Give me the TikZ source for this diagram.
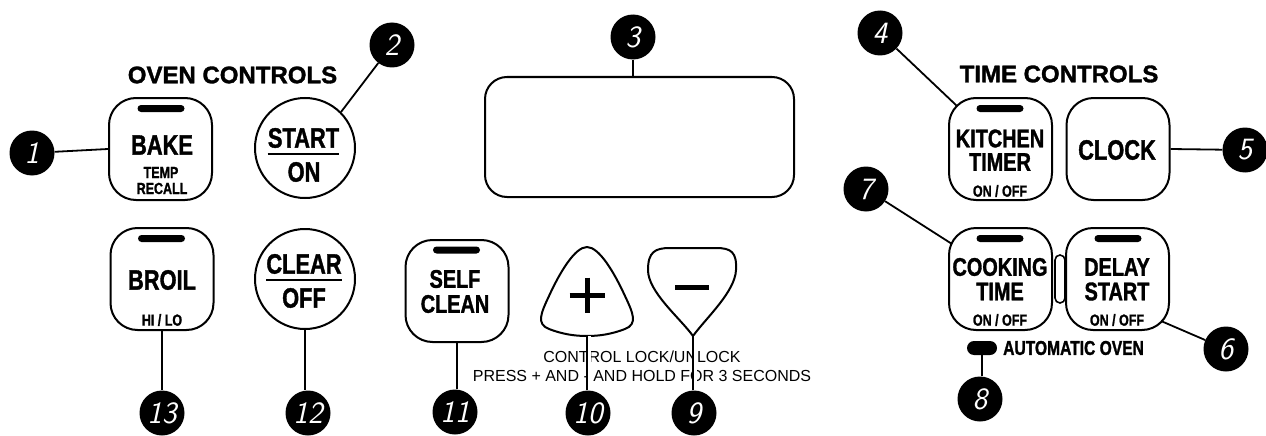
\documentclass[tikz,border=0pt]{standalone}
\usepackage{fontspec}
\setmainfont{Liberation Sans}
\newfontfamily\condfont[FakeStretch=0.78, BoldFeatures={FakeBold=1.3}]{Liberation Sans}
\newfontfamily\headfont[BoldFeatures={FakeBold=1.5}]{Liberation Sans}
\tikzset{
  btn/.style={draw, line width=2pt, rounded corners=27pt, minimum width=103pt, minimum height=102pt, inner sep=0pt},
  rbtn/.style={draw, circle, line width=2pt, minimum size=100pt, inner sep=0pt},
  badge/.style={circle, fill=black, minimum size=45pt, inner sep=0pt, text=white, font=\sffamily\itshape\fontsize{31}{31}\selectfont},
  lead/.style={line width=1.8pt},
  halo/.style={line width=1.8pt, preaction={draw, white, line width=5pt, transform canvas={xshift=1.8pt}}},
  ledbar/.style={fill=black, rounded corners=3.5pt, minimum width=47pt, minimum height=7pt, inner sep=0pt},
  big/.style={inner sep=0pt, font=\condfont\bfseries\fontsize{28}{28}\selectfont},
  mid/.style={inner sep=0pt, font=\condfont\bfseries\fontsize{25.5}{26}\selectfont},
  small/.style={inner sep=0pt, font=\condfont\bfseries\fontsize{16}{16}\selectfont},
  head/.style={inner sep=0pt, font=\headfont\bfseries\fontsize{24}{24}\selectfont},
  note/.style={inner sep=0pt, font=\fontsize{16}{16}\selectfont},
}
\begin{document}
\begin{tikzpicture}[x=1pt, y=-1pt]
\useasboundingbox[fill=white] (0,0) rectangle (1266,436);

% headings
\node[head] (ovenh) at (232.5,75) {OVEN CONTROLS};
\node[head] (timeh) at (1059,74) {TIME CONTROLS};

% oven buttons
\node[btn] (bake) at (160.5,149) {};
\node[ledbar] (bakebar) at (161,108.5) {};
\node[big] (baket) at (162,145) {BAKE};
\node[small] (bakes1) at (161,172.5) {TEMP};
\node[small] (bakes2) at (162,188.5) {RECALL};

\node[rbtn] (start) at (305,148) {};
\node[big] (startt) at (303.5,138) {START};
\node[big] (startb) at (304,172) {ON};
\draw[line width=1.6pt] (startt.south west) ++(0,6) coordinate (su1) -- (su1 -| startt.south east);

\node[btn] (broil) at (162,279) {};
\node[ledbar] (broilbar) at (161.5,238.5) {};
\node[big] (broilt) at (162,280) {BROIL};
\node[small] (broils) at (162,320) {HI / LO};

\node[rbtn] (clear) at (305,279) {};
\node[big] (cleart) at (304,264) {CLEAR};
\node[big] (clearb) at (304,298) {OFF};
\draw[line width=1.6pt] (cleart.south west) ++(0,6) coordinate (cu1) -- (cu1 -| cleart.south east);

\node[btn] (self) at (457,291) {};
\node[ledbar] (selfbar) at (456.5,250) {};
\node[mid] (selft1) at (455,279) {SELF};
\node[mid] (selft2) at (455,304) {CLEAN};

% display
\node[draw, line width=2pt, rounded corners=22pt, minimum width=309pt, minimum height=120pt, inner sep=0pt] (disp) at (639.5,137) {};

% plus / minus pads
\draw[line width=2pt] (587,247) .. controls (599,247) and (614,272) .. (625,296)
  .. controls (633,313) and (638,324) .. (625,329)
  .. controls (612,334) and (600,336) .. (587,336)
  .. controls (574,336) and (562,334) .. (549,329)
  .. controls (536,324) and (541,313) .. (549,296)
  .. controls (560,272) and (575,247) .. (587,247);
\coordinate (ptip) at (587,336);
\node[inner sep=0pt, minimum size=0pt] (plus) at (587,295) {};
\draw[line width=5pt] (plus) ++(-17.5,0) -- ++(35,0);
\draw[line width=5pt] (plus) ++(0,-17.5) -- ++(0,35);

\draw[line width=2pt] (693,336) .. controls (680,318) and (648,292) .. (648,270)
  .. controls (648,252) and (655,248) .. (670,248) -- (716,248)
  .. controls (731,248) and (737,252) .. (736,270)
  .. controls (735,292) and (706,318) .. (693,336);
\coordinate (mtip) at (693,336);
\node[inner sep=0pt, minimum size=0pt] (minus) at (692,287) {};
\draw[line width=5pt] (minus) ++(-17,0) -- ++(34,0);

\node[note] (lock1) at (642,357) {CONTROL LOCK/UNLOCK};
\node[note] (lock2) at (642,376) {PRESS + AND - AND HOLD FOR 3 SECONDS};

% time buttons
\node[btn] (kit) at (1000.5,149) {};
\node[ledbar] (kitbar) at (1000,108.5) {};
\node[mid] (kitt1) at (1000,138.5) {KITCHEN};
\node[mid] (kitt2) at (1000,162) {TIMER};
\node[small] (kits) at (1000,191) {ON / OFF};

\node[btn] (clock) at (1118,149) {};
\node[big] (clockt) at (1117,150) {CLOCK};

\node[btn] (cook) at (1000.5,279) {};
\node[ledbar] (cookbar) at (1000,238.5) {};
\node[mid] (cookt1) at (1000,267) {COOKING};
\node[mid] (cookt2) at (1000,291.5) {TIME};
\node[small] (cooks) at (1000,320) {ON / OFF};

\node[draw, line width=1.6pt, rounded corners=5pt, minimum width=10pt, minimum height=48pt, inner sep=0pt] (link) at (1060,279) {};

\node[btn] (delay) at (1117.5,279) {};
\node[ledbar] (delaybar) at (1118,238.5) {};
\node[mid] (delayt1) at (1117,267) {DELAY};
\node[mid] (delayt2) at (1117,291.5) {START};
\node[small] (delays) at (1117,320) {ON / OFF};

\node[fill=black, rounded corners=7pt, minimum width=30pt, minimum height=14pt, inner sep=0pt] (auto) at (982,348) {};
\node[inner sep=0pt, anchor=west, font=\condfont\bfseries\fontsize{20}{20}\selectfont] (autot) at (1003,348) {AUTOMATIC OVEN};

% leader coordinates
\coordinate (k4) at (957,106);
\coordinate (c7) at (952,244);
\coordinate (d6) at (1161,321);
\coordinate (s2) at (start.45);

% badges
\node[badge] (b1) at (32,153) {1};
\node[badge] (b2) at (392,45) {2};
\node[badge] (b3) at (633,37) {3};
\node[badge] (b4) at (880,33) {4};
\node[badge] (b5) at (1245,150) {5};
\node[badge] (b6) at (1226,349) {6};
\node[badge] (b7) at (866,189) {7};
\node[badge] (b8) at (980,399) {8};
\node[badge] (b9) at (694,413) {9};
\node[badge] (b10) at (588,413) {10};
\node[badge] (b11) at (455,412) {11};
\node[badge] (b12) at (308,413) {12};
\node[badge] (b13) at (162,413) {13};

% leaders
\draw[lead] (b1) -- (bake.west);
\draw[lead] (b2) -- (s2);
\draw[lead] (b3) -- (b3 |- disp.north);
\draw[lead] (b4) -- (k4);
\draw[lead] (clock.east) -- (b5);
\draw[lead] (d6) -- (b6);
\draw[lead] (b7) -- (c7);
\draw[lead] (auto.south) -- (auto.south |- b8.north);
\draw[halo] (mtip) -- (mtip |- b9.north);
\draw[halo] (ptip) -- (ptip |- b10.north);
\draw[lead] (self.south) -- (self.south |- b11.north);
\draw[lead] (clear.south) -- (clear.south |- b12.north);
\draw[lead] (broil.south) -- (broil.south |- b13.north);
\end{tikzpicture}
\end{document}
